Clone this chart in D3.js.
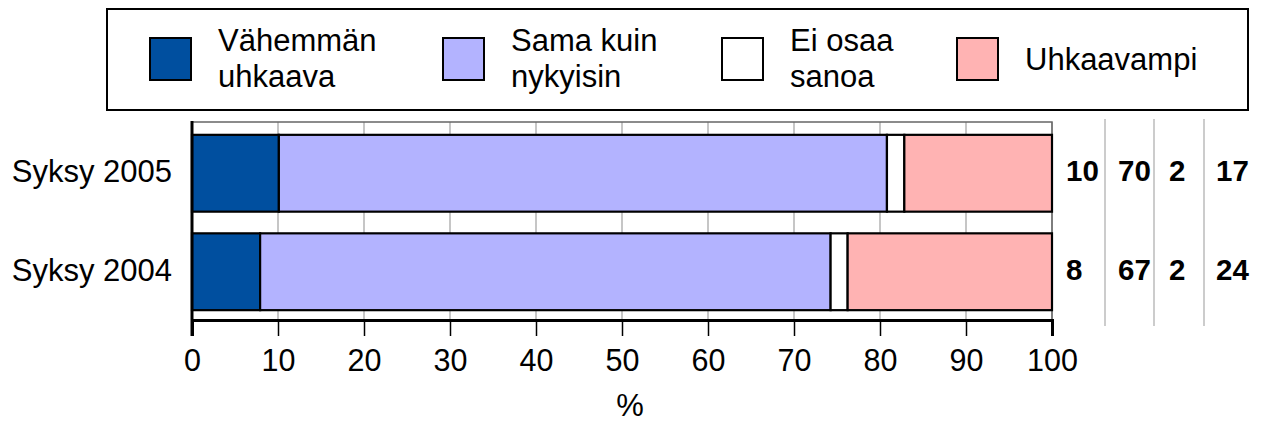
<!DOCTYPE html>
<html>
<head>
<meta charset="utf-8">
<script src="https://cdn.jsdelivr.net/npm/d3@7"></script>
<style>
  html, body { margin: 0; padding: 0; background: #fff; }
  svg { display: block; font-family: "Liberation Sans", Arial, sans-serif; }
</style>
</head>
<body>
<svg id="chart" width="1268" height="423"></svg>
<script>
// Survey rows (top to bottom)
const categories = ["Syksy 2005", "Syksy 2004"];

// Answer shares in percent, one array per answer option
const lessThreatening = [10, 8];
const sameAsNow = [70, 67];
const cannotSay = [2, 2];
const moreThreatening = [17, 24];

const seriesKeys = ["Vähemmän uhkaava", "Sama kuin nykyisin", "Ei osaa sanoa", "Uhkaavampi"];
const legendLines = [["Vähemmän", "uhkaava"], ["Sama kuin", "nykyisin"], ["Ei osaa", "sanoa"], ["Uhkaavampi"]];
const seriesColors = ["#004f9f", "#b3b3ff", "#ffffff", "#ffb3b3"];
const xTicks = [0, 10, 20, 30, 40, 50, 60, 70, 80, 90, 100];
const axisTitle = "%";

const seriesValues = [lessThreatening, sameAsNow, cannotSay, moreThreatening];
const rows = categories.map((c, i) => {
  const r = { category: c };
  seriesKeys.forEach((k, j) => { r[k] = seriesValues[j][i]; });
  return r;
});

const svg = d3.select("#chart");
const FONT = 31;

// Plot geometry
const plotLeft = 192, plotRight = 1052, plotTop = 122, plotBottom = 320;

const x = d3.scaleLinear().domain([0, 100]).range([plotLeft, plotRight]);
const y = d3.scaleBand().domain(categories).range([124, 321])
  .paddingInner(0.22).paddingOuter(0.11);

// 100% stacked layout
const stacked = d3.stack().keys(seriesKeys).offset(d3.stackOffsetExpand)(rows);

// Vertical gridlines
svg.append("g")
  .selectAll("line")
  .data(xTicks)
  .join("line")
  .attr("x1", d => x(d)).attr("x2", d => x(d))
  .attr("y1", plotTop).attr("y2", plotBottom)
  .attr("stroke", "#a0a0a0").attr("stroke-width", 1.2);

// Plot frame (top and right)
svg.append("path")
  .attr("d", `M${plotLeft},${plotTop}H${plotRight}V${plotBottom}`)
  .attr("fill", "none").attr("stroke", "#666").attr("stroke-width", 1.5);

// Bars
svg.append("g")
  .selectAll("g")
  .data(stacked)
  .join("g")
  .attr("fill", (d, i) => seriesColors[i])
  .selectAll("rect")
  .data(d => d)
  .join("rect")
  .attr("x", d => x(d[0] * 100))
  .attr("width", d => x(d[1] * 100) - x(d[0] * 100))
  .attr("y", d => y(d.data.category))
  .attr("height", y.bandwidth())
  .attr("stroke", "#000")
  .attr("stroke-width", 2.2);

// Bottom axis
const xAxis = d3.axisBottom(x).tickValues(xTicks).tickSize(16).tickPadding(13).tickFormat(d3.format("d"));
const gx = svg.append("g").attr("transform", `translate(0,${plotBottom})`).call(xAxis);
gx.select(".domain").attr("stroke", "#000").attr("stroke-width", 3);
gx.selectAll(".tick line").attr("stroke", "#000").attr("stroke-width", 1.5);
gx.selectAll(".tick text").attr("font-size", 30.5).attr("fill", "#000")
  .attr("font-family", "Liberation Sans, Arial, sans-serif");

// Left axis line
svg.append("line")
  .attr("x1", plotLeft).attr("x2", plotLeft)
  .attr("y1", plotTop - 1).attr("y2", plotBottom + 16)
  .attr("stroke", "#000").attr("stroke-width", 3);

// Category labels
svg.append("g")
  .selectAll("text")
  .data(categories)
  .join("text")
  .attr("x", 172)
  .attr("y", d => y(d) + y.bandwidth() / 2 + 9)
  .attr("text-anchor", "end")
  .attr("font-size", FONT)
  .attr("fill", "#000")
  .text(d => d);

// Axis title
svg.append("text")
  .attr("x", 630).attr("y", 416)
  .attr("text-anchor", "middle")
  .attr("font-size", FONT)
  .text(axisTitle);

// Value table to the right of the bars
const columnX = [1066, 1118, 1169, 1216];
const separatorX = [1105, 1154, 1204];
svg.append("g")
  .selectAll("line")
  .data(separatorX)
  .join("line")
  .attr("x1", d => d).attr("x2", d => d)
  .attr("y1", 119).attr("y2", 326)
  .attr("stroke", "#cccccc").attr("stroke-width", 2);

const tableG = svg.append("g");
seriesKeys.forEach((k, j) => {
  tableG.selectAll(null)
    .data(rows)
    .join("text")
    .attr("x", columnX[j])
    .attr("y", d => y(d.category) + y.bandwidth() / 2 + 8)
    .attr("font-size", 29.5)
    .attr("font-weight", "bold")
    .attr("fill", "#000")
    .text(d => d[k]);
});

// Legend
const legend = svg.append("g");
legend.append("rect")
  .attr("x", 107).attr("y", 9)
  .attr("width", 1141).attr("height", 101)
  .attr("fill", "#fff").attr("stroke", "#000").attr("stroke-width", 2);

const swatchX = [150, 443, 722, 957];
const items = legend.selectAll("g.item")
  .data(seriesKeys)
  .join("g")
  .attr("class", "item")
  .attr("transform", (d, i) => `translate(${swatchX[i]},0)`);

items.append("rect")
  .attr("x", 0).attr("y", 38)
  .attr("width", 41).attr("height", 42)
  .attr("fill", (d, i) => seriesColors[i])
  .attr("stroke", "#000").attr("stroke-width", 2);

items.each(function (d, i) {
  const lines = legendLines[i];
  const t = d3.select(this).append("text")
    .attr("font-size", FONT)
    .attr("fill", "#000");
  const startY = lines.length === 1 ? 70 : 51;
  lines.forEach((ln, li) => {
    t.append("tspan")
      .attr("x", 68)
      .attr("y", startY + li * 36)
      .text(ln);
  });
});
</script>
</body>
</html>
